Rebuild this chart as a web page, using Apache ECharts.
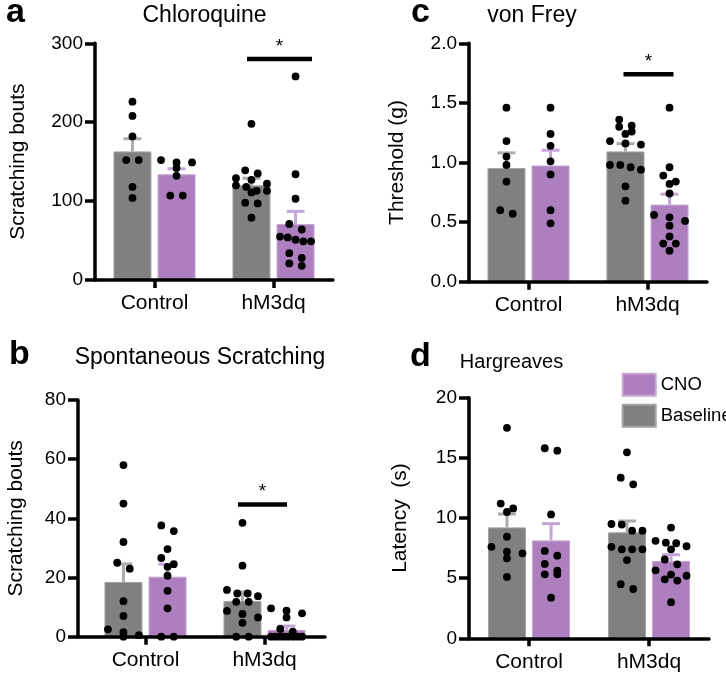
<!DOCTYPE html>
<html>
<head>
<meta charset="utf-8">
<script src="https://cdn.jsdelivr.net/npm/echarts@6/dist/echarts.min.js"></script>
<style>
html,body{margin:0;padding:0;background:#fff;}
#chart{width:726px;height:675px;}
</style>
</head>
<body>
<div id="chart"></div>
<script>
// ---------- DATA ----------
const categories = ['Control', 'hM3dq'];
const legendNames = ['CNO', 'Baseline'];

// a: Chloroquine (scratching bouts)
const chloroCtrlBaseline = [226, 208, 182, 152, 152, 118, 104];
const chloroCtrlCNO = [152, 149, 149, 142, 132, 107, 107];
const chloroHmBaseline = [198, 139, 135, 129, 127, 122, 120, 118, 113, 113, 111, 98, 97, 79];
const chloroHmCNO = [258, 134, 103, 71, 64, 55, 54, 51, 49, 49, 34, 28, 21, 18];
const chloroBaselineMean = [163, 120];
const chloroBaselineSEM = [16, 9];
const chloroCNOMean = [134, 71];
const chloroCNOSEM = [7, 16];
const chloroSig = 280;

// b: Spontaneous Scratching (scratching bouts)
const spontCtrlBaseline = [58, 45, 32, 25, 23, 12, 7, 2.5, 1.5, 0.5, 0];
const spontCtrlCNO = [37.6, 35.7, 29.6, 26.6, 24.5, 23.6, 20.6, 15.5, 9.6, 0, 0];
const spontHmBaseline = [38.5, 24, 15.8, 14.6, 14.6, 13.7, 11.8, 11.8, 8.7, 7.7, 6.5, 4.7, 0, 0];
const spontHmCNO = [9.6, 8.8, 7.9, 6.5, 2.6, 1.7, 0, 0, 0, 0, 0, 0, 0, 0];
const spontBaselineMean = [18.5, 12.1];
const spontBaselineSEM = [6.1, 3.0];
const spontCNOMean = [20.3, 2.3];
const spontCNOSEM = [4.2, 1.3];
const spontSig = 44.7;

// c: von Frey (threshold, g)
const vfCtrlBaseline = [1.46, 1.18, 1.05, 0.98, 0.84, 0.60, 0.57];
const vfCtrlCNO = [1.46, 1.24, 1.14, 1.01, 0.90, 0.60, 0.49];
const vfHmBaseline = [1.36, 1.31, 1.30, 1.26, 1.24, 1.18, 1.16, 1.15, 0.98, 0.98, 0.96, 0.94, 0.80, 0.68];
const vfHmCNO = [1.46, 0.96, 0.89, 0.84, 0.82, 0.74, 0.56, 0.54, 0.51, 0.47, 0.38, 0.32, 0.32, 0.26];
const vfBaselineMean = [0.953, 1.093];
const vfBaselineSEM = [0.128, 0.065];
const vfCNOMean = [0.975, 0.647];
const vfCNOSEM = [0.128, 0.087];
const vfSig = 1.74;

// d: Hargreaves (latency, s)
const hgCtrlBaseline = [17.5, 11.2, 10.8, 10.5, 8.45, 7.6, 7.2, 7.06, 6.65, 5.1];
const hgCtrlCNO = [15.8, 15.6, 10.3, 7.26, 6.87, 6.18, 5.62, 5.32, 5.32, 3.38];
const hgHmBaseline = [15.46, 13.35, 12.8, 9.5, 9.45, 8.95, 8.95, 7.6, 7.4, 7.4, 7.4, 6.5, 4.5, 4.1];
const hgHmCNO = [9.2, 8.1, 7.95, 7.9, 7.65, 7.4, 6.55, 6.15, 5.65, 5.3, 5.2, 4.9, 4.8, 3.0];
const hgBaselineMean = [9.22, 8.81];
const hgBaselineSEM = [1.11, 0.94];
const hgCNOMean = [8.14, 6.43];
const hgCNOSEM = [1.39, 0.52];

// ---------- STYLE / LAYOUT ----------
const FONT = '"Liberation Sans", Arial, Helvetica, sans-serif';
const GRAY = '#808080', GRAY_EDGE = '#a3a3a3', GRAY_ERR = '#ababab';
const PURPLE = '#ae7fbf', PURPLE_EDGE = '#c8a6d4', PURPLE_ERR = '#c6a6da';
const BAR_W = 38, BAR_GAP = 0.16;
const BAR_OFF = (BAR_W + BAR_W * BAR_GAP) / 2;
const AX_W = 3.5;
const DOT_R = 3.9;

const panels = [
  { letter: 'a', title: 'Chloroquine', titleSize: 23, yName: 'Scratching bouts',
    grid: { left: 95, top: 43.3, width: 238, height: 236.7 }, max: 300, interval: 100, nameGap: 66, dec: 0,
    groups: [[chloroCtrlBaseline, chloroCtrlCNO], [chloroHmBaseline, chloroHmCNO]],
    bMean: chloroBaselineMean, bSem: chloroBaselineSEM, cMean: chloroCNOMean, cSem: chloroCNOSEM,
    sig: chloroSig, sigExt: [-26.5, 38.5],
    letterPos: [6, 13], titlePos: [204.5, 15.5] },
  { letter: 'b', title: 'Spontaneous Scratching', titleSize: 23, yName: 'Scratching bouts',
    grid: { left: 86, top: 400, width: 238, height: 236.7 }, max: 80, interval: 20, nameGap: 51, dec: 0, yOffset: 8,
    groups: [[spontCtrlBaseline, spontCtrlCNO], [spontHmBaseline, spontHmCNO]],
    bMean: spontBaselineMean, bSem: spontBaselineSEM, cMean: spontCNOMean, cSem: spontCNOSEM,
    sig: spontSig, sigExt: [-26.5, 22.5],
    letterPos: [9, 355], titlePos: [200, 358] },
  { letter: 'c', title: 'von Frey', titleSize: 23, yName: 'Threshold (g)',
    grid: { left: 469, top: 43.3, width: 238, height: 238.4 }, max: 2, interval: 0.5, nameGap: 61, dec: 1,
    groups: [[vfCtrlBaseline, vfCtrlCNO], [vfHmBaseline, vfHmCNO]],
    bMean: vfBaselineMean, bSem: vfBaselineSEM, cMean: vfCNOMean, cSem: vfCNOSEM,
    sig: vfSig, sigExt: [-24, 26],
    letterPos: [411, 13], titlePos: [532, 15.5] },
  { letter: 'd', title: 'Hargreaves', titleSize: 20, yName: 'Latency  (s)',
    grid: { left: 469, top: 397.7, width: 240, height: 240.6 }, max: 20, interval: 5, nameGap: 58, dec: 0,
    groups: [[hgCtrlBaseline, hgCtrlCNO], [hgHmBaseline, hgHmCNO]],
    bMean: hgBaselineMean, bSem: hgBaselineSEM, cMean: hgCNOMean, cSem: hgCNOSEM,
    sig: null,
    letterPos: [410, 357], titlePos: [511.5, 362] }
];

// Beeswarm-like row layout (GraphPad style): returns pixel x offsets
function swarm(values, pxPerUnit) {
  const idx = values.map((v, i) => i).sort((a, b) => values[b] - values[a]);
  const offs = new Array(values.length).fill(0);
  const ROW_TOL = 7;
  let i = 0;
  while (i < idx.length) {
    const start = values[idx[i]];
    let j = i;
    while (j < idx.length && (start - values[idx[j]]) * pxPerUnit < ROW_TOL) j++;
    const n = j - i;
    const span = n === 1 ? 0 : (n === 2 ? 12.5 : 31);
    for (let k = 0; k < n; k++) offs[idx[i + k]] = n === 1 ? 0 : -span / 2 + span * k / (n - 1);
    i = j;
  }
  return offs;
}

const grids = [], xAxes = [], yAxes = [], series = [], graphics = [];

panels.forEach((p, pi) => {
  grids.push(p.grid);
  xAxes.push({
    type: 'category', gridIndex: pi, data: categories, z: 10,
    axisLine: { show: !p.yOffset, lineStyle: { color: '#000', width: AX_W } },
    axisTick: { show: true, alignWithLabel: true, length: 8, lineStyle: { color: '#000', width: AX_W } },
    axisLabel: { fontSize: 21, color: '#000', margin: 13, fontFamily: FONT },
    splitLine: { show: false }
  });
  yAxes.push({
    type: 'value', gridIndex: pi, min: 0, max: p.max, interval: p.interval, z: 10,
    offset: p.yOffset || 0,
    axisLine: { show: true, lineStyle: { color: '#000', width: AX_W } },
    axisTick: { show: true, length: 10, lineStyle: { color: '#000', width: AX_W } },
    axisLabel: { fontSize: 19, color: '#000', margin: 12, fontFamily: FONT,
      formatter: v => v.toFixed(p.dec) },
    splitLine: { show: false },
    name: p.yName, nameLocation: 'middle', nameGap: p.nameGap,
    nameTextStyle: { fontSize: 21, color: '#000', fontFamily: FONT }
  });

  series.push({
    type: 'bar', name: 'Baseline', xAxisIndex: pi, yAxisIndex: pi, data: p.bMean,
    barWidth: BAR_W, barGap: (BAR_GAP * 100) + '%', silent: true, z: 2,
    itemStyle: { color: GRAY, borderColor: GRAY_EDGE, borderWidth: 1 }
  });
  series.push({
    type: 'bar', name: 'CNO', xAxisIndex: pi, yAxisIndex: pi, data: p.cMean,
    barWidth: BAR_W, barGap: (BAR_GAP * 100) + '%', silent: true, z: 2,
    itemStyle: { color: PURPLE, borderColor: PURPLE_EDGE, borderWidth: 1 }
  });

  // error bars (mean -> mean + SEM)
  const errData = [];
  [0, 1].forEach(c => {
    errData.push([c, p.bMean[c], p.bMean[c] + p.bSem[c], -1]);
    errData.push([c, p.cMean[c], p.cMean[c] + p.cSem[c], 1]);
  });
  series.push({
    type: 'custom', xAxisIndex: pi, yAxisIndex: pi, data: errData, silent: true, z: 3, clip: false,
    encode: { x: 0, y: [1, 2] },
    renderItem: (params, api) => {
      const side = api.value(3);
      const p0 = api.coord([api.value(0), api.value(1)]);
      const p1 = api.coord([api.value(0), api.value(2)]);
      const x = p0[0] + side * BAR_OFF;
      const col = side < 0 ? GRAY_ERR : PURPLE_ERR;
      return { type: 'group', children: [
        { type: 'line', shape: { x1: x, y1: p0[1], x2: x, y2: p1[1] }, style: { stroke: col, lineWidth: 3 } },
        { type: 'line', shape: { x1: x - 9, y1: p1[1], x2: x + 9, y2: p1[1] }, style: { stroke: col, lineWidth: 3 } }
      ]};
    }
  });

  // individual points
  const pxPerUnit = p.grid.height / p.max;
  const dotData = [];
  p.groups.forEach((pair, c) => {
    pair.forEach((vals, s) => {
      const offs = swarm(vals, pxPerUnit);
      vals.forEach((v, k) => dotData.push([c, v, (s === 0 ? -BAR_OFF : BAR_OFF) + offs[k]]));
    });
  });
  series.push({
    type: 'custom', xAxisIndex: pi, yAxisIndex: pi, data: dotData, silent: true, z: 4, clip: false,
    encode: { x: 0, y: 1 },
    renderItem: (params, api) => {
      const pt = api.coord([api.value(0), api.value(1)]);
      return { type: 'circle', shape: { cx: pt[0] + api.value(2), cy: pt[1], r: DOT_R }, style: { fill: '#000' } };
    }
  });

  // significance bar
  if (p.sig !== null) {
    series.push({
      type: 'custom', xAxisIndex: pi, yAxisIndex: pi, data: [[1, p.sig]], silent: true, z: 5, clip: false,
      encode: { x: 0, y: 1 },
      renderItem: (params, api) => {
        const pt = api.coord([api.value(0), api.value(1)]);
        const x1 = pt[0] + p.sigExt[0], x2 = pt[0] + p.sigExt[1];
        return { type: 'group', children: [
          { type: 'line', shape: { x1: x1, y1: pt[1], x2: x2, y2: pt[1] }, style: { stroke: '#000', lineWidth: 4.5 } },
          { type: 'text', style: { x: (x1 + x2) / 2, y: pt[1] - 3, text: '*', fontSize: 19, fontFamily: FONT,
              fill: '#000', align: 'center', verticalAlign: 'bottom' } }
        ]};
      }
    });
  }

  graphics.push({ type: 'text', x: p.letterPos[0], y: p.letterPos[1],
    style: { text: p.letter, fontSize: 34, fontWeight: 'bold', fontFamily: FONT, fill: '#000', align: 'left', verticalAlign: 'middle' } });
  graphics.push({ type: 'text', x: p.titlePos[0], y: p.titlePos[1],
    style: { text: p.title, fontSize: p.titleSize, fontFamily: FONT, fill: '#000', align: 'center', verticalAlign: 'middle' } });
});

// full-length x axis line for panel b (starts at the offset y axis)
grids.push({ left: 78, top: 400, width: 247, height: 236.7 });
xAxes.push({ type: 'value', gridIndex: 4, min: 0, max: 1, z: 9,
  axisLine: { show: true, onZero: false, lineStyle: { color: '#000', width: AX_W } },
  axisTick: { show: false }, axisLabel: { show: false }, splitLine: { show: false } });
yAxes.push({ type: 'value', gridIndex: 4, show: false });

const chart = echarts.init(document.getElementById('chart'), null, { renderer: 'canvas' });
chart.setOption({
  animation: false,
  backgroundColor: '#fff',
  textStyle: { fontFamily: FONT },
  grid: grids,
  xAxis: xAxes,
  yAxis: yAxes,
  legend: {
    data: legendNames, orient: 'vertical', left: 616.7, top: 367.7,
    itemWidth: 33, itemHeight: 22, itemGap: 7, icon: 'rect', selectedMode: false,
    textStyle: { fontSize: 18.5, color: '#000', fontFamily: FONT }
  },
  graphic: graphics,
  series: series
});
</script>
</body>
</html>
